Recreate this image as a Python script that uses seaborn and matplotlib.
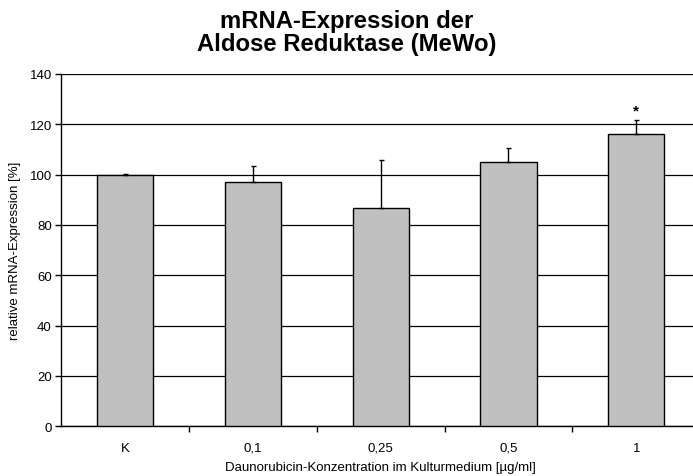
import numpy as np
import pandas as pd
import matplotlib
matplotlib.use("Agg")
import matplotlib.pyplot as plt
import seaborn as sns

# -------------------- DATEN --------------------
konzentrationen = ["K", "0,1", "0,25", "0,5", "1"]
expression = [100.0, 97.0, 86.8, 105.2, 116.2]
fehler = [0.3, 6.5, 19.0, 5.3, 5.6]
signifikant = ["", "", "", "", "*"]

# -------------------- PLOT --------------------
sns.set_style("white")
plt.rcParams["font.family"] = ["Liberation Sans", "DejaVu Sans"]
plt.rcParams["text.color"] = "black"
plt.rcParams["axes.labelcolor"] = "black"
plt.rcParams["xtick.color"] = "black"
plt.rcParams["ytick.color"] = "black"

df = pd.DataFrame({"konz": konzentrationen, "expr": expression})

fig = plt.figure(figsize=(6.93, 4.77), dpi=100)
ax = fig.add_axes([0.0887, 0.1042, 0.9215, 0.7386])

sns.barplot(data=df, x="konz", y="expr", color="#C0C0C0", edgecolor="black",
            linewidth=1.0, width=0.44, saturation=1, ax=ax, zorder=3)

xpos = np.arange(len(konzentrationen))
ax.errorbar(xpos, expression, yerr=[np.zeros(len(fehler)), fehler], fmt="none",
            ecolor="black", elinewidth=1.0, capsize=1.8, capthick=1.0, zorder=4)

for x, y, e, s in zip(xpos, expression, fehler, signifikant):
    if s:
        ax.text(x, y + e + 1.0, s, ha="center", va="bottom", fontsize=11,
                fontweight="bold")

ax.set_ylim(0, 140)
ax.set_xlim(-0.5, len(konzentrationen) - 0.5)
ax.set_yticks(np.arange(0, 141, 20))
ax.yaxis.grid(True, color="black", linewidth=0.9)
ax.set_axisbelow(True)

ax.set_xticks(xpos)
ax.set_xticklabels(konzentrationen)
ax.set_xticks(xpos[:-1] + 0.5, minor=True)
ax.tick_params(axis="x", which="major", length=0, pad=11, labelsize=9.5)
ax.tick_params(axis="x", which="minor", length=4, width=1, direction="out",
               color="black", bottom=True)
ax.tick_params(axis="y", length=4, width=1, direction="out", color="black",
               left=True, labelsize=9.5, pad=3)

for side in ["top", "right"]:
    ax.spines[side].set_visible(False)
for side in ["left", "bottom"]:
    ax.spines[side].set_color("black")
    ax.spines[side].set_linewidth(1.0)

ax.set_xlabel("Daunorubicin-Konzentration im Kulturmedium [µg/ml]", fontsize=9.5,
              labelpad=5)
ax.set_ylabel("relative mRNA-Expression [%]", fontsize=9.5, labelpad=6)

fig.text(0.5, 0.930, "mRNA-Expression der\nAldose Reduktase (MeWo)",
         ha="center", va="center", fontsize=17.2, fontweight="bold",
         linespacing=1.0)

fig.savefig("out.png", dpi=100)
